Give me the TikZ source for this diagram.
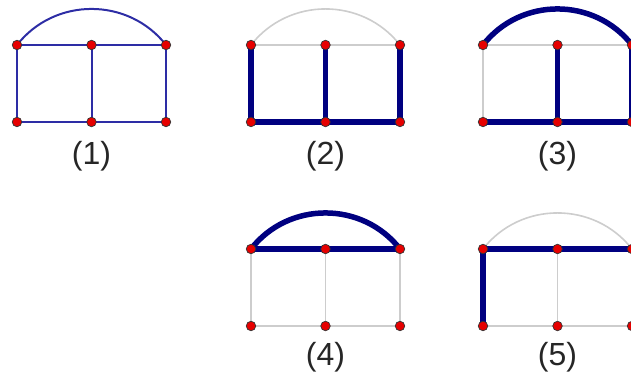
\documentclass[tikz,border=0pt]{standalone}
\usepackage{fontspec}
\setmainfont{Liberation Sans}
\usetikzlibrary{backgrounds}
\definecolor{navy}{RGB}{0,0,128}
\definecolor{thinblue}{RGB}{45,45,165}
\definecolor{lgray}{RGB}{205,205,205}
\definecolor{dotred}{RGB}{230,0,0}
\newcommand\mkgraph[3]{%
  \node[dot] (#1a) at (#2,#3) {};
  \node[dot] (#1b) at (#2+74.5,#3) {};
  \node[dot] (#1c) at (#2+149,#3) {};
  \node[dot] (#1d) at (#2,#3+77) {};
  \node[dot] (#1e) at (#2+74.5,#3+77) {};
  \node[dot] (#1f) at (#2+149,#3+77) {};
}
% prefix, arc, top1, top2, v1, v2, v3, bot1, bot2
\newcommand\mkedges[9]{%
  \begin{pgfonlayer}{background}
    \draw[#2] (#1a.center) to[bend left=52,looseness=1.05] (#1c.center);
    \draw[#3] (#1a.center) -- (#1b.center);
    \draw[#4] (#1b.center) -- (#1c.center);
    \draw[#5] (#1a.center) -- (#1d.center);
    \draw[#6] (#1b.center) -- (#1e.center);
    \draw[#7] (#1c.center) -- (#1f.center);
    \draw[#8] (#1d.center) -- (#1e.center);
    \draw[#9] (#1e.center) -- (#1f.center);
  \end{pgfonlayer}
}
\begin{document}
\begin{tikzpicture}[x=1pt,y=-1pt,
  dot/.style={circle,fill=dotred,draw=black!80,line width=0.7pt,inner sep=0pt,minimum size=9.5pt},
  tn/.style={draw=thinblue,line width=2pt},
  tk/.style={draw=navy,line width=5.5pt},
  gr/.style={draw=lgray,line width=1.6pt},
  lab/.style={font=\fontsize{32}{32}\selectfont,text=black!85,inner sep=0pt}]
\useasboundingbox (0,0) rectangle (631,379);
\mkgraph{p}{17}{45}
\mkedges{p}{tn}{tn}{tn}{tn}{tn}{tn}{tn}{tn}
\mkgraph{q}{251}{45}
\mkedges{q}{gr}{gr}{gr}{tk}{tk}{tk}{tk}{tk}
\mkgraph{r}{483}{45}
\mkedges{r}{tk}{gr}{gr}{gr}{tk}{tk}{tk}{tk}
\mkgraph{s}{251}{249}
\mkedges{s}{tk}{tk}{tk}{gr}{gr}{gr}{gr}{gr}
\mkgraph{t}{483}{249}
\mkedges{t}{gr}{tk}{tk}{tk}{gr}{gr}{gr}{gr}
\node[lab] (l1) at (91.5,156) {(1)};
\node[lab] (l2) at (325.5,156) {(2)};
\node[lab] (l3) at (557.5,156) {(3)};
\node[lab] (l4) at (325.5,357) {(4)};
\node[lab] (l5) at (557.5,357) {(5)};
\end{tikzpicture}
\end{document}
